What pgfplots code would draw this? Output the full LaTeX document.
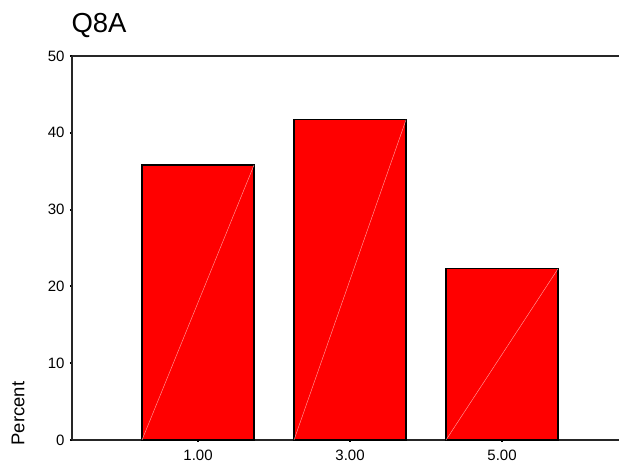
\documentclass[border=0pt]{standalone}
\usepackage{fontspec}
\setmainfont{Liberation Sans}
\usepackage{pgfplots}
\pgfplotsset{compat=1.18}
\begin{document}
\begin{tikzpicture}
\begin{axis}[
  name=a,
  scale only axis=true,
  width=547pt, height=384pt,
  xmin=-0.658, xmax=6.539,
  ymin=0, ymax=50,
  axis x line=box, axis y line=left,
  axis line style={-, line width=1.5pt, black!85},
  xtick={1,3,5}, xticklabels={1.00,3.00,5.00},
  ytick={0,10,20,30,40,50},
  xtick pos=lower,
  tick align=outside,
  major tick length=2pt,
  tick style={line width=2pt, black},
  /pgf/number format/assume math mode=true,
  ticklabel style={font=\fontsize{15}{18}\selectfont},
  xticklabel style={yshift=-5pt},
  yticklabel style={xshift=-2pt},
  title={Q8A},
  title style={at={(rel axis cs:0,1)}, anchor=base west, yshift=17pt, xshift=-4pt, font=\fontsize{27.5}{31}\selectfont},
  ylabel={Percent},
  ylabel style={at={(rel axis cs:0,0)}, anchor=south west, yshift=44pt, xshift=-9pt, font=\fontsize{18.5}{22}\selectfont},
  clip=false,
]
\addplot[ybar, bar width=1.474, fill=red, draw=black, line width=1.2pt] coordinates {(1,35.8) (3,41.7) (5,22.3)};
\addplot[line width=0.4pt, color=red!35!white] coordinates {(0.263,0) (1.737,35.8)};
\addplot[line width=0.4pt, color=red!35!white] coordinates {(2.263,0) (3.737,41.7)};
\addplot[line width=0.4pt, color=red!35!white] coordinates {(4.263,0) (5.737,22.3)};
\end{axis}
\pgfresetboundingbox
\path[use as bounding box] ([xshift=-72pt,yshift=-26pt]a.south west) rectangle ([yshift=56pt]a.north east);
\end{tikzpicture}
\end{document}
